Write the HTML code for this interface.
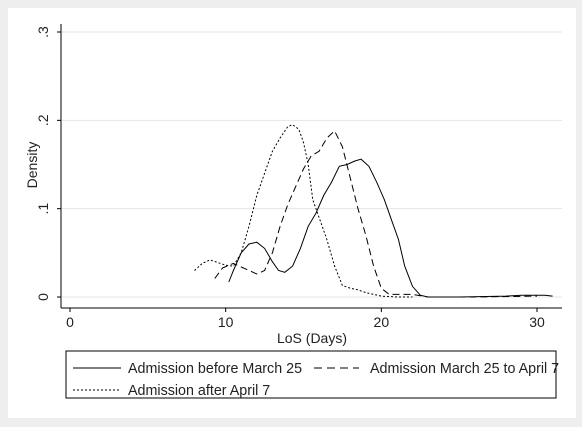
<!DOCTYPE html>
<html><head><meta charset="utf-8"><style>
body{margin:0;background:#fff;}
svg{display:block;font-family:"Liberation Sans",Arial,sans-serif;}
</style></head><body>
<svg id="chart" width="582" height="427" xmlns="http://www.w3.org/2000/svg">
<rect x="0" y="0" width="582" height="427" fill="#eeeeee"/>
<rect x="8" y="8" width="568" height="410" fill="#ffffff"/>
<g id="grid"></g>
<g id="axes"></g>
<g id="series"></g>
<text x="312" y="343" font-size="14" text-anchor="middle" fill="#222">LoS (Days)</text>
<text transform="translate(37,165) rotate(-90)" font-size="14" text-anchor="middle" fill="#222">Density</text>
<g>
<rect x="66" y="351" width="490" height="47" fill="#fff" stroke="#000" stroke-width="1"/>
<g>
<line x1="73" y1="368" x2="121" y2="368" stroke="#000" stroke-width="1"/>
<text x="128" y="373" font-size="14.3" fill="#222">Admission before March 25</text>
</g>
<g>
<line x1="314" y1="368" x2="359" y2="368" stroke="#000" stroke-width="1" stroke-dasharray="8,5"/>
<text x="370" y="373" font-size="14.3" fill="#222">Admission March 25 to April 7</text>
</g>
<g>
<line x1="73" y1="390" x2="121" y2="390" stroke="#000" stroke-width="1" stroke-dasharray="2,2"/>
<text x="128" y="395" font-size="14.3" fill="#222">Admission after April 7</text>
</g>
</g>
</svg>
<script>
const xTicks=[0,10,20,30];
const yTicks=[0,0.1,0.2,0.3];
const yTickLabels=["0",".1",".2",".3"];
const beforeX=[10.2,10.5,11,11.5,12,12.5,13,13.4,13.8,14.3,14.8,15.3,15.8,16.3,16.8,17.3,17.8,18.3,18.7,19.2,19.7,20.2,20.7,21.1,21.5,22,22.5,23,25,28,29,30.5,31];
const beforeY=[0.017,0.03,0.05,0.06,0.062,0.055,0.04,0.03,0.028,0.035,0.055,0.08,0.095,0.115,0.13,0.148,0.15,0.154,0.156,0.148,0.13,0.11,0.085,0.065,0.035,0.012,0.002,0,0,0.001,0.002,0.002,0.001];
const midX=[9.3,9.8,10.5,11,11.5,12,12.5,13,13.5,14,14.5,15,15.5,16,16.5,17,17.5,18,18.5,19,19.5,20,20.5,21,22,23,26,30];
const midY=[0.021,0.033,0.038,0.034,0.03,0.026,0.03,0.05,0.08,0.105,0.125,0.145,0.16,0.165,0.18,0.188,0.17,0.135,0.1,0.07,0.035,0.01,0.003,0.003,0.003,0,0,0.001];
const afterX=[8,8.5,9,9.5,10,10.5,11,11.5,12,12.5,13,13.5,14,14.3,14.7,15,15.3,15.6,16,16.5,17,17.5,18,18.5,19,20,21,22];
const afterY=[0.03,0.038,0.042,0.039,0.036,0.035,0.05,0.08,0.115,0.14,0.165,0.18,0.193,0.195,0.19,0.175,0.15,0.11,0.09,0.065,0.035,0.013,0.01,0.008,0.005,0.001,0,0];

const NS="http://www.w3.org/2000/svg";
const X0=70,X1=537,Y0=297,Y1=32;
const sx=v=>X0+(v-0)*(X1-X0)/30;
const sy=v=>Y0-v*(Y0-Y1)/0.3;
function mk(tag,attrs,parent){const e=document.createElementNS(NS,tag);for(const k in attrs)e.setAttribute(k,attrs[k]);parent.appendChild(e);return e;}
const grid=document.getElementById('grid'),axes=document.getElementById('axes'),series=document.getElementById('series');
yTicks.forEach((t,i)=>{
  if(t>0){const g=mk('line',{x1:62,x2:562,y1:sy(t),y2:sy(t),stroke:'#e4e4e4','stroke-width':1},grid);
  
  }
  const tk=mk('line',{x1:57,x2:61,y1:sy(t),y2:sy(t),stroke:'#000'},axes);
  
  
  const lb=mk('text',{transform:`translate(48,${sy(t)}) rotate(-90)`,'font-size':14,'text-anchor':'middle',fill:'#222'},axes);
  lb.textContent=yTickLabels[i];
  
  
});
const zl=mk('line',{x1:62,x2:562,y1:sy(0),y2:sy(0),stroke:'#e4e4e4'},grid);


xTicks.forEach(t=>{
  const tk=mk('line',{x1:sx(t),x2:sx(t),y1:308,y2:312,stroke:'#000'},axes);
  
  
  const lb=mk('text',{x:sx(t),y:327,'font-size':14,'text-anchor':'middle',fill:'#222'},axes);
  lb.textContent=t;
  
  
});
const ya=mk('line',{x1:61,x2:61,y1:24,y2:308,stroke:'#000'},axes);


const xa=mk('line',{x1:61,x2:562,y1:308,y2:308,stroke:'#000'},axes);


function line(xs,ys,dash,name){
  const d=xs.map((x,i)=>(i?'L':'M')+sx(x).toFixed(1)+','+sy(ys[i]).toFixed(1)).join('');
  const p=mk('path',{d:d,fill:'none',stroke:'#000','stroke-width':1},series);
  if(dash)p.setAttribute('stroke-dasharray',dash);
  
  
}
line(beforeX,beforeY,null,'line-before-march-25');
line(midX,midY,'7,4','line-march-25-to-april-7');
line(afterX,afterY,'2,2','line-after-april-7');
</script>
</body></html>
